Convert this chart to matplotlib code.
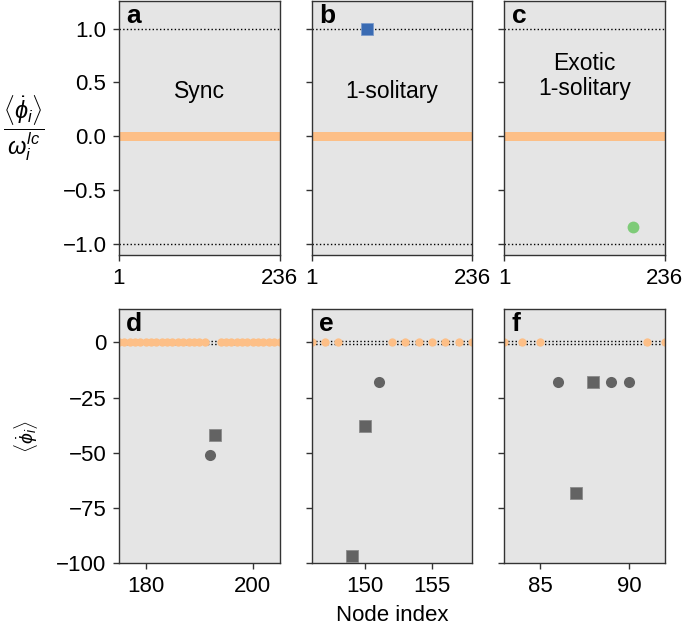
import numpy as np
import matplotlib
matplotlib.use('Agg')
import matplotlib.pyplot as plt

plt.rcParams['font.family'] = ['Liberation Sans', 'DejaVu Sans']
plt.rcParams['mathtext.fontset'] = 'custom'
plt.rcParams['mathtext.rm'] = 'Liberation Sans'
plt.rcParams['mathtext.it'] = 'Liberation Sans:italic'
plt.rcParams['mathtext.bf'] = 'Liberation Sans:bold'

# ---- data ----
n_nodes = 236
top_titles = ['Sync', '1-solitary', 'Exotic\n1-solitary']
top_letters = ['a', 'b', 'c']
# solitary node in b (blue square) and c (green circle)
sol_b = (82, 1.0)
sol_c = (190, -0.84)

bottom_letters = ['d', 'e', 'f']
bottom_xlims = [(175, 205), (146, 158), (83, 92)]
bottom_xticks = [[180, 200], [150, 155], [85, 90]]
# synchronized nodes (value 0)
sync_d = [175, 176, 177, 178, 179, 180, 181, 182, 183, 184, 185, 186, 187, 188,
          189, 190, 191, 194, 195, 196, 197, 198, 199, 200, 201, 202, 203, 204, 205]
sync_e = [146, 147, 148, 152, 153, 154, 155, 156, 157, 158]
sync_f = [83, 84, 85, 91, 92]
# solitary nodes (gray): circles / squares
circ_d_x, circ_d_y = [192], [-51]
sq_d_x, sq_d_y = [193], [-42]
circ_e_x, circ_e_y = [151], [-18]
sq_e_x, sq_e_y = [149, 150], [-96.5, -38]
circ_f_x, circ_f_y = [86, 89, 90], [-18, -18, -18]
sq_f_x, sq_f_y = [87, 88], [-68, -18]
# limit-cycle frequency band shown in d-f
omega_lc = 0.75

orange = '#FDBF87'
gray = '#636363'
blue = '#3A6BB3'
green = '#7ECB78'
bg = '#E5E5E5'
spine_c = '#333333'

fig = plt.figure(figsize=(6.85, 6.28), dpi=100)

lefts = [119 / 685, 311.7 / 685, 504.3 / 685]
w = 160.5 / 685
top_b, top_h = 1 - 255 / 628, 254 / 628
bot_b, bot_h = 1 - 563.3 / 628, 254 / 628


def style(ax):
    ax.set_facecolor(bg)
    for s in ax.spines.values():
        s.set_color(spine_c)
        s.set_linewidth(1.0)
    ax.tick_params(direction='out', length=4, width=1, labelsize=16,
                   color=spine_c, pad=5)


nodes = np.arange(1, n_nodes + 1)
for i in range(3):
    ax = fig.add_axes([lefts[i], top_b, w, top_h])
    style(ax)
    ax.axhline(1, color='black', ls=':', lw=1, zorder=1)
    ax.axhline(-1, color='black', ls=':', lw=1, zorder=1)
    vals = np.zeros(n_nodes)
    mask = np.ones(n_nodes, bool)
    if i == 1:
        mask[nodes == sol_b[0]] = False
    if i == 2:
        mask[nodes == sol_c[0]] = False
    ax.plot(nodes[mask], vals[mask], 'o', color=orange, ms=6, mew=0, zorder=2)
    if i == 1:
        ax.plot(sol_b[0], sol_b[1], 's', color=blue, ms=8, mew=0.6,
                mec='#7C9CCB', zorder=3)
    if i == 2:
        ax.plot(sol_c[0], sol_c[1], 'o', color=green, ms=8.5, mew=0, zorder=3)
    ax.set_xlim(1, n_nodes)
    ax.set_ylim(-1.1, 1.255)
    ax.set_xticks([1, n_nodes])
    ax.set_yticks([-1, -0.5, 0, 0.5, 1])
    if i == 0:
        ax.set_yticklabels(['\u22121.0', '\u22120.5', '0.0', '0.5', '1.0'])
        ax.set_ylabel(r'$\dfrac{\langle\dot{\phi}_i\rangle}{\omega_i^{lc}}$',
                      rotation=0, fontsize=17, labelpad=28, va='center')
    else:
        ax.set_yticklabels([])
    ax.text(0.045, 0.99, top_letters[i], transform=ax.transAxes, fontsize=19,
            fontweight='bold', va='top', ha='left')
    ty = 0.42 if i < 2 else 0.56
    ax.text(0.5, (ty + 1.1) / 2.355, top_titles[i], transform=ax.transAxes,
            fontsize=16.5, ha='center', va='center', linespacing=1.15)

sync_lists = [sync_d, sync_e, sync_f]
circs = [(circ_d_x, circ_d_y), (circ_e_x, circ_e_y), (circ_f_x, circ_f_y)]
sqs = [(sq_d_x, sq_d_y), (sq_e_x, sq_e_y), (sq_f_x, sq_f_y)]
for i in range(3):
    ax = fig.add_axes([lefts[i], bot_b, w, bot_h])
    style(ax)
    ax.axhline(omega_lc, color='black', ls=':', lw=1, zorder=1)
    ax.axhline(-omega_lc, color='black', ls=':', lw=1, zorder=1)
    ax.plot(sync_lists[i], np.zeros(len(sync_lists[i])), 'o', color=orange,
            ms=6, mew=0, zorder=2)
    ax.plot(circs[i][0], circs[i][1], 'o', color=gray, ms=8, mew=0, zorder=3)
    ax.plot(sqs[i][0], sqs[i][1], 's', color=gray, ms=8, mew=0.6,
            mec='#8a8a8a', zorder=3)
    ax.set_xlim(*bottom_xlims[i])
    ax.set_ylim(-100, 15)
    ax.set_xticks(bottom_xticks[i])
    ax.set_yticks([-100, -75, -50, -25, 0])
    if i == 0:
        ax.set_yticklabels(['\u2212100', '\u221275', '\u221250', '\u221225', '0'])
        ax.set_ylabel(r'$\langle\dot{\phi}_i\rangle$', fontsize=14, labelpad=12)
    else:
        ax.set_yticklabels([])
    if i == 1:
        ax.set_xlabel('Node index', fontsize=16, labelpad=6)
    ax.text(0.045, 0.99, bottom_letters[i], transform=ax.transAxes, fontsize=19,
            fontweight='bold', va='top', ha='left')

fig.savefig('out.png', dpi=100)
